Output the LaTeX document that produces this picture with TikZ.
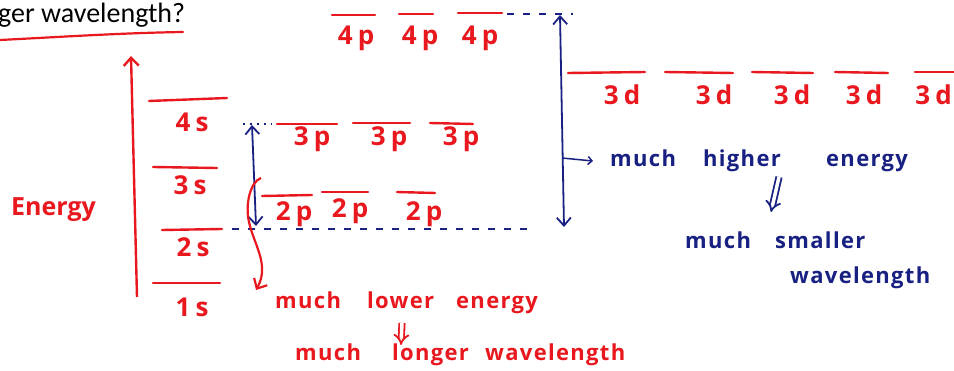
\documentclass[tikz,border=0pt]{standalone}
\usepackage{fontspec}
\setmainfont{Open Sans}
\newfontfamily\titlefont{Carlito}
\usetikzlibrary{arrows.meta}
\definecolor{pen}{RGB}{232,24,30}
\definecolor{ink}{RGB}{24,32,130}
\newcommand\wbox[2]{\makebox[#1pt][l]{#2}}
\begin{document}
\begin{tikzpicture}[x=1pt,y=-1pt,
  lvl/.style={pen, line width=2.4pt, line cap=round},
  lbl/.style={pen, font=\fontsize{26}{26}\selectfont\bfseries\addfontfeatures{LetterSpace=20}, anchor=base, inner sep=0pt},
  note/.style={font=\fontsize{22}{22}\selectfont\bfseries\addfontfeatures{LetterSpace=6}, anchor=base west, inner sep=0pt},
  barb/.style={-{Straight Barb[length=8pt,width=15pt]}},
  dbarb/.style={{Straight Barb[length=8pt,width=14pt]}-{Straight Barb[length=8pt,width=14pt]}},
  guide/.style={ink, line width=1.2pt, dash pattern=on 7pt off 9pt},
]
\useasboundingbox (0,0) rectangle (954,371);
\clip (0,0) rectangle (954,371);

% title fragment and underline
\node[anchor=base west, inner sep=0pt, font=\titlefont\fontsize{28}{28}\selectfont] (title) at (-2,23) {ger wavelength?};
\draw[pen, line width=2.2pt, line cap=round] (0,40) .. controls (60,37) and (120,33) .. (183,32);

% energy axis
\coordinate (ebot) at (137,297);
\coordinate (etop) at (131,56);
\draw[pen, line width=2.4pt, barb] (ebot) -- (etop);
\node[pen, anchor=base west, inner sep=0pt, font=\fontsize{25}{25}\selectfont\bfseries] (energy) at (11,216) {Energy};

% s levels
\draw[lvl] (149,101) -- (227,98);
\node[lbl] (l4s) at (192,132) {4s};
\draw[lvl] (153,167) -- (217,168);
\node[lbl] (l3s) at (190,195) {3s};
\draw[lvl] (162,230) -- (222,229);
\node[lbl] (l2s) at (193,257) {2s};
\draw[lvl] (153,283) -- (220,283);
\node[lbl] (l1s) at (192,317) {1s};

% 3p levels
\draw[lvl] (277,124) -- (337,124);
\draw[lvl] (353,123) -- (410,123);
\draw[lvl] (430,123) -- (473,124);
\node[lbl] (l3pa) at (312,146) {3p};
\node[lbl] (l3pb) at (389,146) {3p};
\node[lbl] (l3pc) at (461,146) {3p};

% 2p levels
\draw[lvl] (262,196) -- (312,195);
\draw[lvl] (322,192) -- (368,192);
\draw[lvl] (397,192) -- (435,193);
\node[lbl] (l2pa) at (294,221) {2p};
\node[lbl] (l2pb) at (350,218) {2p};
\node[lbl] (l2pc) at (424,221) {2p};

% 4p levels
\draw[lvl] (332,15) -- (375,15);
\draw[lvl] (399,14) -- (433,14);
\draw[lvl] (458,13) -- (502,13);
\node[lbl] (l4pa) at (356,45) {4p};
\node[lbl] (l4pb) at (420,45) {4p};
\node[lbl] (l4pc) at (480,45) {4p};

% 3d levels
\draw[lvl] (568,73) -- (645,72);
\draw[lvl] (665,72) -- (733,73);
\draw[lvl] (752,72) -- (813,73);
\draw[lvl] (835,72) -- (888,73);
\draw[lvl] (915,72) -- (960,72);
\node[lbl] (l3da) at (622,105) {3d};
\node[lbl] (l3db) at (714,105) {3d};
\node[lbl] (l3dc) at (792,105) {3d};
\node[lbl] (l3dd) at (864,105) {3d};
\node[lbl, anchor=base east] (l3de) at (952,105) {3d};

% guide lines
\coordinate (g3pl) at (243,124);
\coordinate (g3pr) at (272,124);
\draw[ink, line width=1.2pt, dash pattern=on 2pt off 5pt] (g3pl) -- (g3pr);
\coordinate (g2sl) at (232,229);
\coordinate (g2sr) at (534,229);
\draw[guide] (g2sl) -- (g2sr);
\coordinate (g4pl) at (507,14);
\coordinate (g4pr) at (573,14);
\draw[guide] (g4pl) -- (g4pr);

% small gap arrow (2s to 3p)
\coordinate (sa) at (252,125);
\coordinate (sb) at (256,226);
\draw[ink, line width=1.8pt, dbarb] (sb) -- (sa);

% large gap arrow (2s to 4p)
\coordinate (la) at (560,15);
\coordinate (lb) at (564,227);
\draw[ink, line width=1.8pt, dbarb] (lb) -- (la);
\coordinate (hk0) at (562,158);
\coordinate (hk1) at (593,161);
\draw[ink, line width=1.5pt, -{Straight Barb[length=4pt,width=8pt]}] (hk0) -- (hk1);

% red bracket arrow
\coordinate (ra) at (261,178);
\coordinate (rb) at (256,290);
\draw[pen, line width=2.2pt, -{Straight Barb[length=8pt,width=15pt]}]
  (ra) .. controls (250,182) and (245,205) .. (249,222)
  .. controls (254,245) and (270,265) .. (rb);

% blue notes
\node[ink, note] (hi) at (610,167) {\wbox{93}{much}\wbox{123}{higher}energy};
\coordinate (ia) at (779,177);
\coordinate (ib) at (771,212);
\draw[ink, line width=1.8pt, double distance=3.5pt, -{Implies}] (ia) -- (ib);
\node[ink, note] (sm) at (685,249) {\wbox{90}{much}smaller};
\node[ink, note] (wl) at (790,284) {wavelength};

% red notes
\node[pen, note] (lo) at (275,309) {\wbox{92}{much}\wbox{89}{lower}energy};
\coordinate (ja) at (402,323);
\coordinate (jb) at (401,345);
\draw[pen, line width=1.8pt, double distance=3.5pt, -{Implies}] (ja) -- (jb);
\node[pen, note] (lw) at (295,361) {\wbox{97}{much}\wbox{93}{longer}wavelength};
\end{tikzpicture}
\end{document}
